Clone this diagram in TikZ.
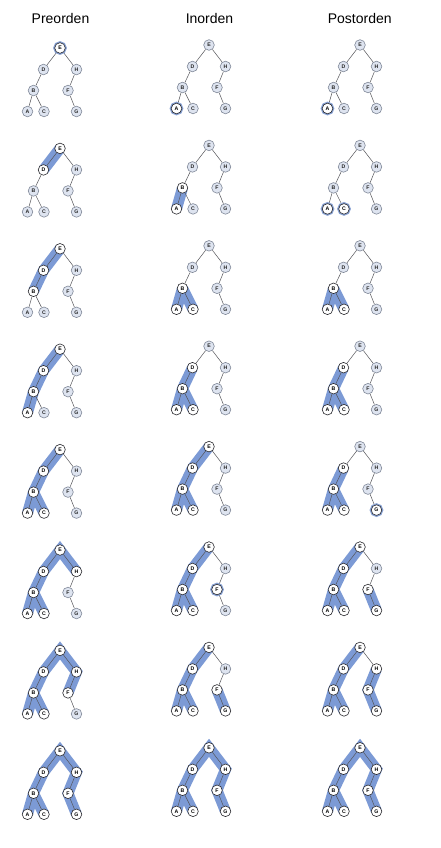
\documentclass[tikz,border=0pt]{standalone}
\usepackage{fontspec}
\setmainfont{Liberation Sans}
\usetikzlibrary{backgrounds}
\pgfdeclarelayer{bands}
\pgfdeclarelayer{paper}
\pgfsetlayers{paper,bands,background,main}
\definecolor{bandc}{RGB}{124,154,213}
\definecolor{ringc}{RGB}{136,162,212}
\definecolor{unvf}{RGB}{222,228,240}
\definecolor{unvd}{RGB}{128,136,152}
\definecolor{visd}{RGB}{40,40,45}
\definecolor{edgec}{RGB}{85,85,90}
\tikzset{
  tnode/.style={circle, minimum size=10.6pt, inner sep=0pt, line width=0.6pt,
    font=\fontsize{5.2}{6}\selectfont\bfseries},
  u/.style={tnode, draw=unvd, fill=unvf, text=black!85},
  v/.style={tnode, draw=visd, fill=white, text=black},
  r/.style={v, preaction={draw=ringc, line width=3pt}},
  edge/.style={draw=edgec, line width=0.5pt},
  band/.style={draw=bandc, line width=11pt, line cap=butt, line join=miter},
  title/.style={font=\fontsize{14}{16}\selectfont, anchor=base}
}
\newcommand{\travtree}[9]{%
  \node[#2] (#1E) at (0,0) {E};
  \node[#3] (#1D) at (-16.5,21.5) {D};
  \node[#4] (#1H) at (16.5,21.5) {H};
  \node[#5] (#1B) at (-26.5,42.5) {B};
  \node[#6] (#1F) at (8,42.5) {F};
  \node[#7] (#1A) at (-32.5,63.5) {A};
  \node[#8] (#1C) at (-16,63.5) {C};
  \node[#9] (#1G) at (16.5,63.5) {G};
  \begin{pgfonlayer}{background}
    \draw[edge] (#1E)--(#1D) (#1E)--(#1H) (#1D)--(#1B) (#1B)--(#1A)
      (#1B)--(#1C) (#1H)--(#1F) (#1F)--(#1G);
  \end{pgfonlayer}}
\newcommand{\bandpath}[1]{\begin{pgfonlayer}{bands}\draw[band] #1;\end{pgfonlayer}}
\begin{document}
\begin{tikzpicture}[x=1pt,y=-1pt]
\begin{pgfonlayer}{paper}
\fill[white] (0,0) rectangle (440,848);
\end{pgfonlayer}
\useasboundingbox (0,0) rectangle (440,848);
\node[title] (t1) at (60.5,24) {Preorden};
\node[title] (t2) at (209.5,24) {Inorden};
\node[title] (t3) at (359.7,24) {Postorden};

% ---------- Preorden (E D B A C H F G) ----------
% args: prefix, E D H B F A C G
\begin{scope}[shift={(60,48)}]\travtree{p1}{r}{u}{u}{u}{u}{u}{u}{u}\end{scope}
\begin{scope}[shift={(60,148.4)}]\travtree{p2}{v}{v}{u}{u}{u}{u}{u}{u}\end{scope}
\begin{scope}[shift={(60,248.8)}]\travtree{p3}{v}{v}{u}{v}{u}{u}{u}{u}\end{scope}
\begin{scope}[shift={(60,349.2)}]\travtree{p4}{v}{v}{u}{v}{u}{v}{u}{u}\end{scope}
\begin{scope}[shift={(60,449.6)}]\travtree{p5}{v}{v}{u}{v}{u}{v}{v}{u}\end{scope}
\begin{scope}[shift={(60,550)}]\travtree{p6}{v}{v}{v}{v}{u}{v}{v}{u}\end{scope}
\begin{scope}[shift={(60,650.4)}]\travtree{p7}{v}{v}{v}{v}{v}{v}{v}{u}\end{scope}
\begin{scope}[shift={(60,750.8)}]\travtree{p8}{v}{v}{v}{v}{v}{v}{v}{v}\end{scope}
\bandpath{(p2E.center)--(p2D.center)}
\bandpath{(p3E.center)--(p3D.center)--(p3B.center)}
\bandpath{(p4E.center)--(p4D.center)--(p4B.center)--(p4A.center)}
\bandpath{(p5A.center)--(p5B.center)--(p5D.center)--(p5E.center) (p5B.center)--(p5C.center)}
\bandpath{(p6A.center)--(p6B.center)--(p6D.center)--(p6E.center)--(p6H.center) (p6B.center)--(p6C.center)}
\bandpath{(p7A.center)--(p7B.center)--(p7D.center)--(p7E.center)--(p7H.center)--(p7F.center) (p7B.center)--(p7C.center)}
\bandpath{(p8A.center)--(p8B.center)--(p8D.center)--(p8E.center)--(p8H.center)--(p8F.center)--(p8G.center) (p8B.center)--(p8C.center)}

% ---------- Inorden (A B C D E F G H) ----------
\begin{scope}[shift={(209,45)}]\travtree{i1}{u}{u}{u}{u}{u}{r}{u}{u}\end{scope}
\begin{scope}[shift={(209,145.4)}]\travtree{i2}{u}{u}{u}{v}{u}{v}{u}{u}\end{scope}
\begin{scope}[shift={(209,245.8)}]\travtree{i3}{u}{u}{u}{v}{u}{v}{v}{u}\end{scope}
\begin{scope}[shift={(209,346.2)}]\travtree{i4}{u}{v}{u}{v}{u}{v}{v}{u}\end{scope}
\begin{scope}[shift={(209,446.6)}]\travtree{i5}{v}{v}{u}{v}{u}{v}{v}{u}\end{scope}
\begin{scope}[shift={(209,547)}]\travtree{i6}{v}{v}{u}{v}{r}{v}{v}{u}\end{scope}
\begin{scope}[shift={(209,647.4)}]\travtree{i7}{v}{v}{u}{v}{v}{v}{v}{v}\end{scope}
\begin{scope}[shift={(209,747.8)}]\travtree{i8}{v}{v}{v}{v}{v}{v}{v}{v}\end{scope}
\bandpath{(i2A.center)--(i2B.center)}
\bandpath{(i3A.center)--(i3B.center) (i3B.center)--(i3C.center)}
\bandpath{(i4A.center)--(i4B.center)--(i4D.center) (i4B.center)--(i4C.center)}
\bandpath{(i5A.center)--(i5B.center)--(i5D.center)--(i5E.center) (i5B.center)--(i5C.center)}
\bandpath{(i6A.center)--(i6B.center)--(i6D.center)--(i6E.center) (i6B.center)--(i6C.center)}
\bandpath{(i7A.center)--(i7B.center)--(i7D.center)--(i7E.center) (i7B.center)--(i7C.center) (i7F.center)--(i7G.center)}
\bandpath{(i8A.center)--(i8B.center)--(i8D.center)--(i8E.center)--(i8H.center)--(i8F.center)--(i8G.center) (i8B.center)--(i8C.center)}

% ---------- Postorden (A C B D G F H E) ----------
\begin{scope}[shift={(360,45)}]\travtree{q1}{u}{u}{u}{u}{u}{r}{u}{u}\end{scope}
\begin{scope}[shift={(360,145.4)}]\travtree{q2}{u}{u}{u}{u}{u}{r}{r}{u}\end{scope}
\begin{scope}[shift={(360,245.8)}]\travtree{q3}{u}{u}{u}{v}{u}{v}{v}{u}\end{scope}
\begin{scope}[shift={(360,346.2)}]\travtree{q4}{u}{v}{u}{v}{u}{v}{v}{u}\end{scope}
\begin{scope}[shift={(360,446.6)}]\travtree{q5}{u}{v}{u}{v}{u}{v}{v}{r}\end{scope}
\begin{scope}[shift={(360,547)}]\travtree{q6}{v}{v}{u}{v}{v}{v}{v}{v}\end{scope}
\begin{scope}[shift={(360,647.4)}]\travtree{q7}{v}{v}{v}{v}{v}{v}{v}{v}\end{scope}
\begin{scope}[shift={(360,747.8)}]\travtree{q8}{v}{v}{v}{v}{v}{v}{v}{v}\end{scope}
\bandpath{(q3A.center)--(q3B.center) (q3B.center)--(q3C.center)}
\bandpath{(q4A.center)--(q4B.center)--(q4D.center) (q4B.center)--(q4C.center)}
\bandpath{(q5A.center)--(q5B.center)--(q5D.center) (q5B.center)--(q5C.center)}
\bandpath{(q6A.center)--(q6B.center)--(q6D.center)--(q6E.center) (q6B.center)--(q6C.center) (q6F.center)--(q6G.center)}
\bandpath{(q7A.center)--(q7B.center)--(q7D.center)--(q7E.center) (q7B.center)--(q7C.center) (q7H.center)--(q7F.center)--(q7G.center)}
\bandpath{(q8A.center)--(q8B.center)--(q8D.center)--(q8E.center)--(q8H.center)--(q8F.center)--(q8G.center) (q8B.center)--(q8C.center)}
\end{tikzpicture}
\end{document}
